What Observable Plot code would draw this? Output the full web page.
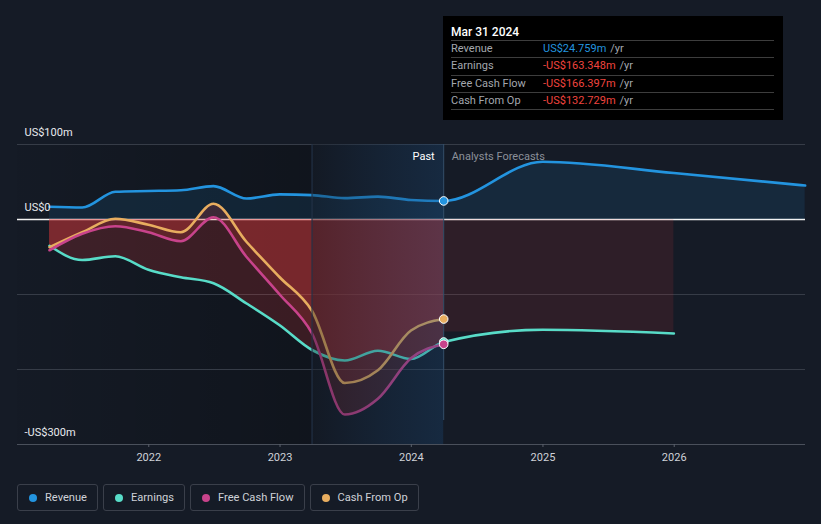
<!DOCTYPE html>
<html><head><meta charset="utf-8">
<script src="https://cdn.jsdelivr.net/npm/d3@7"></script>
<script src="https://cdn.jsdelivr.net/npm/@observablehq/plot@0.6"></script>
<style>
html,body{margin:0;padding:0;background:#151b26;}
#wrap{position:relative;width:821px;height:524px;overflow:hidden;font-family:Roboto,"Noto Sans",sans-serif;}
#chart{position:absolute;left:0;top:0;}
#tip{position:absolute;left:443px;top:16px;width:340px;height:104px;background:#000;box-sizing:border-box;padding:0 9px 0 8px;}
#tip .ttl{height:25px;padding-top:9px;box-sizing:border-box;font-size:12px;line-height:14px;color:#fff;font-weight:500;border-bottom:1px solid #3d3d3d;}
#tip .row{height:17.3px;box-sizing:border-box;border-bottom:1px solid #3d3d3d;font-size:11px;line-height:16.3px;display:flex;white-space:nowrap;}
#tip .lab{width:92px;color:#a3a7ae;}
#tip .unit{color:#a3a7ae;margin-left:4px;}
#legend{position:absolute;left:17px;top:484px;display:flex;gap:5px;}
#legend .item{height:27px;box-sizing:border-box;border:1px solid #3a3f4a;border-radius:3px;padding:0 10px 0 11px;display:flex;align-items:center;font-size:11.1px;color:#cfd2d8;}
#legend .dot{width:8px;height:8px;border-radius:50%;margin-right:8px;}
</style></head>
<body><div id="wrap"><div id="chart"></div><div id="tip"></div><div id="legend"></div></div>
<script>
// ---- data (US$ millions) ----
const pastDates = ["2021-03-31","2021-06-30","2021-09-30","2021-12-31","2022-03-31","2022-06-30","2022-09-30","2022-12-31","2023-03-31","2023-06-30","2023-09-30","2023-12-31","2024-03-31"];
const revenuePast  = [17, 16, 37, 38, 39, 44.5, 28, 33.5, 32.5, 28.5, 30.5, 26, 24.759];
const earningsPast = [-35, -54, -49, -67, -77, -85, -112, -141, -174, -188, -175, -186, -163.348];
const fcfPast      = [-41, -19, -9, -17, -29, 3, -50, -100, -152, -260, -239, -185, -166.397];
const cfoPast      = [-37, -17, 1, -7, -17, 21, -30, -77, -122, -218, -201, -148, -132.729];

const revenueForecastDates = ["2024-12-31","2025-12-31","2026-12-31"];
const revenueForecast      = [77, 62, 45.3];
const earningsForecastDates = ["2024-12-31","2025-12-31"];
const earningsForecast      = [-147, -152];
const earningsForecastBand  = -150;   // level of the shaded forecast band

const seriesNames  = ["Revenue","Earnings","Free Cash Flow","Cash From Op"];
const seriesColors = ["#2394df","#58dcc8","#c8438b","#e8ad5f"];

const xDomain = ["2021-01-01","2027-01-01"];
const yDomain = [-300, 100];
const yGridValues = [100, -100, -200];
const yLabelValues = [100, 0, -300];
const xTickDates = ["2022-01-01","2023-01-01","2024-01-01","2025-01-01","2026-01-01"];
const pastWindow = ["2023-03-31","2024-03-31"];
const tooltipTitle = "Mar 31 2024";

// ---- build ----
const parse = d3.utcParse("%Y-%m-%d");
const toRows = (dates, vals) => dates.map((d, i) => ({date: parse(d), value: vals[i]}));
const revenueRows  = toRows(pastDates.concat(revenueForecastDates), revenuePast.concat(revenueForecast));
const earningsRows = toRows(pastDates.concat(earningsForecastDates), earningsPast.concat(earningsForecast));
const earningsPastRows = toRows(pastDates, earningsPast);
const fcfRows = toRows(pastDates, fcfPast);
const cfoRows = toRows(pastDates, cfoPast);
const x0 = parse(xDomain[0]);
const winStart = parse(pastWindow[0]), winEnd = parse(pastWindow[1]);
const lastIdx = pastDates.length - 1;
const lastVals = [revenuePast[lastIdx], earningsPast[lastIdx], fcfPast[lastIdx], cfoPast[lastIdx]];
const fmtM = v => v === 0 ? "US$0" : (v < 0 ? "-" : "") + "US$" + Math.abs(v) + "m";
const C = seriesColors;
const red = "#e43d3d";
const curve = "monotone-x";

const svg = Plot.plot({
  width: 821, height: 470,
  marginLeft: 17, marginRight: 16, marginTop: 144, marginBottom: 26,
  style: {background: "transparent", fontFamily: "Roboto, sans-serif", fontSize: "11px", color: "#c9cdd3", overflow: "visible"},
  x: {type: "utc", domain: xDomain.map(parse)},
  y: {domain: yDomain, axis: null},
  marks: [
    Plot.rect([0], {x1: () => x0, x2: () => winStart, y1: yDomain[0], y2: yDomain[1], fill: "url(#shadeL)"}),
    Plot.ruleY(yGridValues, {stroke: "#363c47", strokeWidth: 1}),
    Plot.ruleY([yDomain[0]], {stroke: "#4a505b", strokeWidth: 1}),
    Plot.ruleY([0], {stroke: "#f2f2f2", strokeWidth: 1.3}),
    Plot.areaY(revenueRows, {x: "date", y1: 0, y2: "value", curve, fill: C[0], fillOpacity: 0.12}),
    Plot.rect([0], {x1: () => winEnd, x2: () => parse(earningsForecastDates[earningsForecastDates.length-1]), y1: 0, y2: earningsForecastBand, fill: red, fillOpacity: 0.12}),
    Plot.areaY(earningsPastRows, {x: "date", y1: 0, y2: "value", curve, fill: red, fillOpacity: 0.2}),
    Plot.areaY(fcfRows, {x: "date", y1: 0, y2: "value", curve, fill: red, fillOpacity: 0.2}),
    Plot.areaY(cfoRows, {x: "date", y1: 0, y2: "value", curve, fill: red, fillOpacity: 0.2}),
    Plot.line(revenueRows, {x: "date", y: "value", curve, stroke: C[0], strokeWidth: 2.6}),
    Plot.line(earningsRows, {x: "date", y: "value", curve, stroke: C[1], strokeWidth: 2.6}),
    Plot.line(cfoRows, {x: "date", y: "value", curve, stroke: C[3], strokeWidth: 2.6}),
    Plot.line(fcfRows, {x: "date", y: "value", curve, stroke: C[2], strokeWidth: 2.6}),
    Plot.rect([0], {x1: () => winStart, x2: () => winEnd, y1: yDomain[0], y2: yDomain[1], fill: "url(#hl)"}),
    Plot.ruleX([winStart], {y1: yDomain[0], y2: yDomain[1], stroke: "#24344a", strokeWidth: 1}),
    Plot.ruleX([winEnd], {y1: yDomain[0], y2: yDomain[1], insetTop: -24, stroke: "#34506c", strokeWidth: 1}),
    Plot.text([winEnd], {x: d => d, y: yDomain[1], dy: 12, dx: -9, text: () => "Past", textAnchor: "end", fill: "#ffffff", fontSize: 11}),
    Plot.text([winEnd], {x: d => d, y: yDomain[1], dy: 12, dx: 8, text: () => "Analysts Forecasts", textAnchor: "start", fill: "#8b9099", fontSize: 11}),
    Plot.text(yLabelValues, {x: () => x0, y: d => d, dx: 7, dy: -12, text: fmtM, textAnchor: "start", fill: "#e8eaee", fontSize: 11}),
    Plot.dot([0,3,1,2], {x: () => winEnd, y: i => lastVals[i], fill: i => C[i], stroke: "#ffffff", strokeWidth: 1, r: 4.3}),
    Plot.axisX(xTickDates.map(parse), {tickSize: 3, tickPadding: 6, tickFormat: "%Y", stroke: "#5a606b", fill: "#cfd2d8", fontSize: 11})
  ]
});

const defs = d3.select(svg).insert("defs", ":first-child");
const g1 = defs.append("linearGradient").attr("id", "shadeL").attr("x1", "0").attr("x2", "1").attr("y1", "0").attr("y2", "0");
g1.append("stop").attr("offset", "0").attr("stop-color", "#000").attr("stop-opacity", 0.03);
g1.append("stop").attr("offset", "1").attr("stop-color", "#000").attr("stop-opacity", 0.25);
const g2 = defs.append("linearGradient").attr("id", "hl").attr("x1", "0").attr("x2", "1").attr("y1", "0").attr("y2", "0");
g2.append("stop").attr("offset", "0").attr("stop-color", "#101620").attr("stop-opacity", 0.35);
g2.append("stop").attr("offset", "1").attr("stop-color", "#1a4c7e").attr("stop-opacity", 0.3);
document.getElementById("chart").appendChild(svg);

// tooltip
const tip = document.getElementById("tip");
let html = `<div class="ttl">${tooltipTitle}</div>`;
seriesNames.forEach((n, i) => {
  const v = lastVals[i];
  const col = v < 0 ? "#f0443e" : C[0];
  html += `<div class="row"><span class="lab">${n}</span><span style="color:${col}">${(v<0?"-":"")}US$${Math.abs(v).toFixed(3)}m</span><span class="unit">/yr</span></div>`;
});
tip.innerHTML = html;

// legend
const lg = document.getElementById("legend");
seriesNames.forEach((n, i) => {
  const it = document.createElement("div");
  it.className = "item";
  it.innerHTML = `<span class="dot" style="background:${C[i]}"></span><span>${n}</span>`;
  lg.appendChild(it);
});
</script></body></html>
